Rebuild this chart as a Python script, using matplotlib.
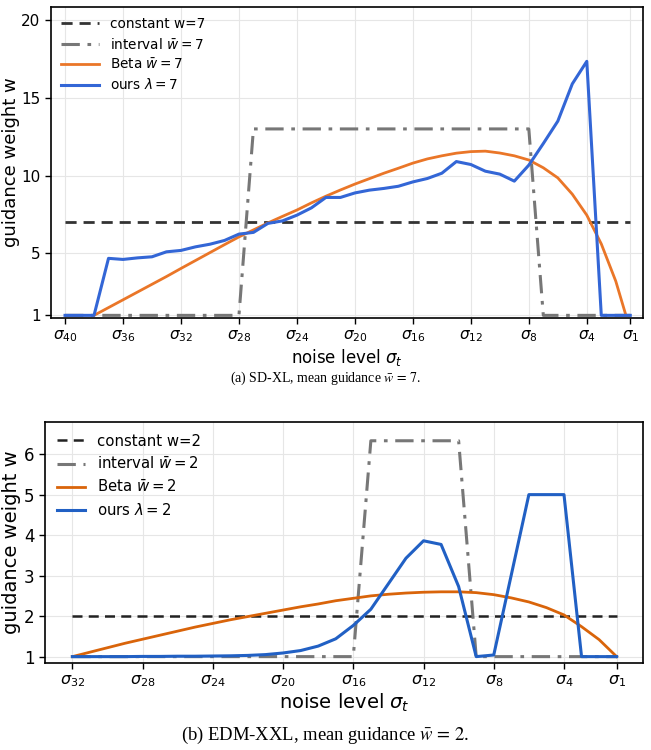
import matplotlib
matplotlib.use('Agg')
import matplotlib.pyplot as plt
import numpy as np

# ---- data: (a) SD-XL, 40 steps (k=0 is sigma_40, k=39 is sigma_1)
sdxl_const = [7.0] * 40
sdxl_interval = [1.0] * 13 + [13.0] * 20 + [1.0] * 7
sdxl_beta_k = list(range(2, 39)) + [38.7]
sdxl_beta = [1.0, 1.5, 2.0, 2.5, 3.0, 3.5, 4.02, 4.53, 5.04, 5.55, 6.05, 6.5, 6.95,
             7.37, 7.78, 8.24, 8.67, 9.07, 9.45, 9.8, 10.15, 10.47, 10.8, 11.07, 11.27,
             11.44, 11.54, 11.57, 11.45, 11.27, 11.0, 10.5, 9.85, 8.8, 7.45, 5.6, 3.2, 1.0]
sdxl_ours = [1, 1, 1, 4.67, 4.6, 4.7, 4.77, 5.09, 5.18, 5.41, 5.58, 5.82, 6.23, 6.34,
             6.92, 7.08, 7.45, 7.92, 8.59, 8.59, 8.88, 9.06, 9.17, 9.31, 9.59, 9.81,
             10.15, 10.9, 10.71, 10.28, 10.09, 9.64, 10.67, 12.06, 13.5, 15.9, 17.35, 1, 1, 1]
sdxl_ticks = [0, 4, 8, 12, 16, 20, 24, 28, 32, 36, 39]
sdxl_labels = [40, 36, 32, 28, 24, 20, 16, 12, 8, 4, 1]

# ---- data: (b) EDM-XXL, 32 steps
edm_const = [2.0] * 32
edm_interval = [1.0] * 17 + [6.33] * 6 + [1.0] * 9
edm_beta = [1.0, 1.11, 1.22, 1.33, 1.43, 1.53, 1.63, 1.73, 1.82, 1.91, 1.99, 2.07, 2.15,
            2.23, 2.3, 2.38, 2.44, 2.5, 2.54, 2.57, 2.59, 2.6, 2.6, 2.58, 2.53, 2.45,
            2.35, 2.21, 2.03, 1.74, 1.42, 1.0]
edm_ours = [1.0, 1.0, 1.0, 1.0, 1.005, 1.005, 1.01, 1.01, 1.015, 1.02, 1.03, 1.05, 1.09,
            1.15, 1.26, 1.44, 1.77, 2.17, 2.8, 3.43, 3.86, 3.77, 2.73, 1.0, 1.04, 3.02,
            5.0, 5.0, 5.0, 1.0, 1.0, 1.0]
edm_ticks = [0, 4, 8, 12, 16, 20, 24, 28, 31]
edm_labels = [32, 28, 24, 20, 16, 12, 8, 4, 1]

fig = plt.figure(figsize=(6.51, 7.5), dpi=100)

def style_axes(ax, tick_fs):
    ax.grid(True, color='#e6e6e6', linewidth=0.8)
    ax.set_axisbelow(True)
    for s in ax.spines.values():
        s.set_linewidth(1.2)
        s.set_color('black')
    ax.tick_params(labelsize=tick_fs, length=4, width=1)

# top panel
ax1 = fig.add_axes([0.0783, 0.576, 0.909, 0.4147])
k1 = np.arange(len(sdxl_ours))
ax1.plot(k1, sdxl_const, color='#333333', lw=2, ls=(0, (4, 2.5)), label='constant w=7')
ax1.plot(k1, sdxl_interval, color='#777777', lw=2.2, ls=(0, (6, 2.5, 1.2, 2.5)),
         label=r'interval $\bar{w}=7$')
ax1.plot(sdxl_beta_k, sdxl_beta, color='#ea7628', lw=2, label=r'Beta $\bar{w}=7$')
ax1.plot(k1, sdxl_ours, color='#3366d6', lw=2.2, label=r'ours $\lambda=7$')
style_axes(ax1, 11)
ax1.set_xticks(sdxl_ticks)
ax1.set_xticklabels([r'$\sigma_{%d}$' % v for v in sdxl_labels])
ax1.set_yticks([1, 5, 10, 15, 20])
ax1.set_xlim(-0.97, 39.86)
ax1.set_ylim(0.83, 20.85)
ax1.set_xlabel(r'noise level $\sigma_t$', fontsize=12, labelpad=2)
ax1.set_ylabel('guidance weight w', fontsize=13, labelpad=1)
ax1.legend(loc='upper left', frameon=False, fontsize=9.8, handlelength=2.8,
           labelspacing=0.4, borderaxespad=0.35)

# bottom panel
ax2 = fig.add_axes([0.0691, 0.1164, 0.9186, 0.3213])
k2 = np.arange(len(edm_ours))
ax2.plot(k2, edm_const, color='#222222', lw=1.8, ls=(0, (4, 2.5)), label='constant w=2')
ax2.plot(k2, edm_interval, color='#777777', lw=2.2, ls=(0, (6, 2.5, 1.2, 2.5)),
         label=r'interval $\bar{w}=2$')
ax2.plot(k2, edm_beta, color='#d9640a', lw=2, label=r'Beta $\bar{w}=2$')
ax2.plot(k2, edm_ours, color='#2160c4', lw=2.2, label=r'ours $\lambda=2$')
style_axes(ax2, 12)
ax2.tick_params(axis='x', labelsize=11.5)
ax2.set_xticks(edm_ticks)
ax2.set_xticklabels([r'$\sigma_{%d}$' % v for v in edm_labels])
ax2.set_yticks([1, 2, 3, 4, 5, 6])
ax2.set_xlim(-1.56, 32.5)
ax2.set_ylim(0.85, 6.8)
ax2.set_xlabel(r'noise level $\sigma_t$', fontsize=14, labelpad=2)
ax2.set_ylabel('guidance weight w', fontsize=14, labelpad=2)
ax2.legend(loc='upper left', frameon=False, fontsize=10.7, handlelength=1.9,
           labelspacing=0.48, borderaxespad=0.4)

# captions
fig.text(0.5, 0.496, r'(a) SD-XL, mean guidance $\bar{w}\,=\,7$.', ha='center', va='center',
         fontsize=10, family='Liberation Serif', math_fontfamily='stix')
fig.text(0.5, 0.02, r'(b) EDM-XXL, mean guidance $\bar{w}\,=\,2$.', ha='center', va='center',
         fontsize=13.4, family='Liberation Serif', math_fontfamily='stix')

fig.savefig('out.png', dpi=100)
